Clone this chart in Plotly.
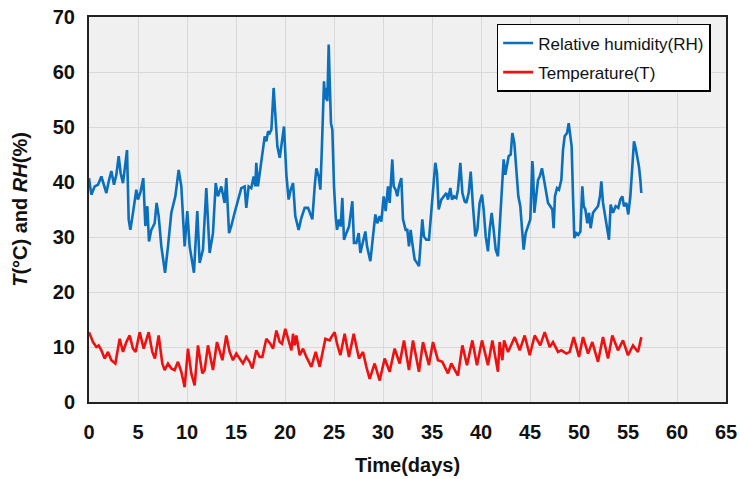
import plotly.graph_objects as go

# Relative humidity series (days, %)
rh_days = [0.00, 0.24, 0.58, 0.92, 1.26, 1.53, 1.77, 2.01, 2.28, 2.55, 2.79, 3.03, 3.23, 3.47, 3.64, 3.88,
           4.05, 4.22, 4.49, 4.83, 5.00, 5.27, 5.54, 5.75, 5.95, 6.12, 6.36, 6.70, 6.90, 7.11, 7.38, 7.76,
           8.06, 8.40, 8.81, 9.15, 9.42, 9.76, 10.03, 10.27, 10.71, 11.05, 11.29, 11.63, 11.97, 12.31, 12.65,
           12.93, 13.16, 13.50, 13.84, 14.01, 14.29, 14.52, 14.86, 15.20, 15.54, 15.88, 16.05, 16.29, 16.56,
           16.80, 16.97, 17.07, 17.24, 17.52, 17.93, 18.10, 18.27, 18.44, 18.61, 18.84, 19.01, 19.22, 19.46,
           19.69, 19.90, 20.14, 20.37, 20.58, 20.82, 21.05, 21.39, 21.67, 22.01, 22.35, 22.69,
           22.79, 23.03, 23.20, 23.44, 23.61, 23.78, 23.88, 23.98, 24.08, 24.22, 24.32, 24.46, 24.56, 24.69,
           24.83, 25.00, 25.17, 25.31, 25.51, 25.68, 25.85, 26.02, 26.26, 26.53, 26.87, 27.04, 27.28, 27.52,
           27.69, 27.89, 28.20, 28.37, 28.71, 28.98, 29.22, 29.42, 29.66, 29.83, 30.07, 30.27, 30.51, 30.68,
           30.95, 31.09, 31.29, 31.46, 31.63, 31.87, 32.04, 32.31, 32.48, 32.65, 32.82, 32.99, 33.23, 33.47,
           33.67, 33.84, 34.01, 34.18, 34.42, 34.69, 34.93, 35.17, 35.34, 35.51, 35.68, 35.95, 36.22, 36.46,
           36.63, 36.87, 37.04, 37.24, 37.48, 37.65, 37.89, 38.10, 38.33, 38.50, 38.74, 38.95, 39.18, 39.42,
           39.63, 39.86, 40.10, 40.27, 40.48, 40.71, 40.88, 41.09, 41.29, 41.50, 41.73, 41.97, 42.18, 42.31,
           42.48, 42.65, 42.82, 43.03, 43.20, 43.40, 43.61, 43.81, 44.01, 44.18, 44.35, 44.56, 44.80, 45.03,
           45.24, 45.31, 45.44, 45.58, 45.82, 45.99, 46.22, 46.43, 46.67, 46.84, 47.07, 47.28, 47.41, 47.55,
           47.76, 47.96, 48.20, 48.37, 48.54, 48.78, 48.95, 49.12, 49.25, 49.39, 49.52, 49.73, 49.93, 50.14,
           50.34, 50.48, 50.65, 50.85, 51.02, 51.19, 51.43, 51.67, 51.94, 52.14, 52.28, 52.45, 52.62, 52.86,
           53.06, 53.23, 53.47, 53.74, 54.01, 54.22, 54.42, 54.59, 54.83, 55.03, 55.24, 55.44, 55.61, 55.78,
           55.95, 56.12, 56.26, 56.36]
rh_values = [40.7, 37.7, 39.2, 39.5, 41.0, 39.2, 38.0, 40.1, 42.0, 39.5, 41.3, 44.7, 41.6, 39.8, 42.2, 45.8,
             33.2, 31.3, 34.4, 38.6, 36.8, 38.3, 40.7, 32.0, 35.6, 29.2, 31.3, 32.5, 36.2, 33.8, 28.3, 23.5,
             28.3, 34.4, 37.4, 42.2, 39.2, 28.3, 34.7, 28.3, 23.5, 34.7, 25.3, 27.7, 38.9, 27.1, 30.7,
             39.8, 37.4, 39.2, 36.2, 40.7, 30.7, 32.0, 34.4, 36.8, 38.9, 39.2, 35.3, 39.2, 38.9,
             41.0, 39.2, 43.5, 39.2, 42.9, 48.3, 47.4, 49.2, 48.9, 49.5, 57.1, 51.6, 46.5, 44.4,
             47.1, 50.1, 41.3, 36.8, 38.6, 39.8, 33.8, 31.3, 33.5, 35.3, 35.3, 33.8,
             33.2, 39.2, 42.5, 41.0, 38.6, 47.1, 53.8, 58.3, 55.0, 57.1, 54.7, 65.0, 58.6, 50.7,
             49.5, 39.2, 33.8, 31.3, 33.2, 31.9, 37.1, 29.5, 30.7, 31.9, 36.5, 28.9, 28.9, 30.7,
             27.1, 28.9, 31.0, 28.3, 25.6, 30.1, 34.1, 32.5, 33.8, 32.8, 37.4, 34.7, 39.2, 36.2,
             44.1, 39.2, 38.6, 37.4, 39.2, 40.7, 33.2, 31.3, 31.3, 28.3, 31.3, 28.9, 25.9, 25.3,
             24.7, 28.9, 33.2, 30.1, 29.5, 29.5, 34.4, 38.6, 43.5, 41.6, 35.0, 36.8, 37.4, 38.0,
             36.8, 38.9, 36.8, 37.4, 37.1, 38.6, 43.5, 38.0, 36.5, 36.2, 38.0, 41.9, 35.6, 30.1,
             31.3, 36.2, 37.7, 35.0, 30.1, 27.4, 31.3, 34.4, 31.3, 27.7, 26.5, 33.8, 42.2, 44.1,
             41.3, 43.2, 44.7, 45.0, 48.9, 47.1, 41.0, 37.4, 35.6, 31.3, 27.7, 30.7, 31.9, 33.2,
             43.8, 42.2, 34.4, 36.8, 40.4, 41.0, 42.5, 40.4, 37.4, 36.2, 35.6, 35.0, 31.6, 37.4,
             38.9, 38.6, 40.4, 45.9, 48.3, 48.9, 50.7, 48.3, 46.5, 37.4, 29.8, 30.7, 30.4, 31.0,
             39.2, 35.6, 35.0, 32.5, 34.4, 31.6, 34.4, 35.0, 35.6, 37.4, 40.1, 36.2, 34.4, 31.3,
             29.5, 35.9, 34.4, 35.6, 35.3, 36.8, 37.4, 35.6, 36.2, 34.1, 37.4, 42.8, 47.4, 46.2,
             44.7, 42.8, 40.4, 38.0]

# Temperature series (days, °C)
t_days = [0.00, 0.41, 0.75, 0.99, 1.26, 1.60, 1.94, 2.28, 2.69, 3.13, 3.47, 3.81, 4.15, 4.49, 4.76, 5.17,
          5.58, 6.09, 6.46, 6.73, 7.11, 7.48, 7.72, 8.06, 8.40, 8.74, 9.08, 9.42, 9.76, 10.10, 10.44, 10.78,
          11.12, 11.56, 11.80, 12.14, 12.65, 13.06, 13.61, 14.01, 14.35, 14.69, 15.03, 15.37, 15.71, 16.05,
          16.39, 16.67, 17.07, 17.41, 17.69, 18.10, 18.50, 18.78, 19.12, 19.46, 19.69, 20.03, 20.37, 20.65,
          20.82, 20.99, 21.16, 21.50, 21.84, 22.18, 22.69, 23.13, 23.54, 24.12, 24.56, 24.73, 25.07, 25.31,
          25.65, 26.09, 26.53, 27.01, 27.55, 27.96, 28.30, 28.64,
          29.15, 29.66, 30.17, 30.68, 31.19, 31.70, 32.14, 32.65, 33.06, 33.67, 34.08, 34.69, 35.10, 35.61,
          36.05, 36.63, 36.97, 37.65, 38.10, 38.57, 39.12, 39.59, 40.10, 40.71, 41.16, 41.73, 41.90, 42.18,
          42.35, 42.76, 43.44, 43.95, 44.46, 44.97, 45.48, 46.05, 46.50, 47.01, 47.35, 47.86, 48.20, 48.71,
          49.05, 49.46, 50.00, 50.41, 50.92, 51.36, 51.94, 52.45, 52.96, 53.40, 53.98, 54.49, 55.00, 55.51,
          56.02, 56.36]
t_values = [12.7, 10.9, 10.0, 10.3, 9.4, 7.9, 9.1, 7.6, 7.0, 11.5, 9.1, 10.9, 12.1, 9.7, 9.1, 12.7,
            9.7, 12.7, 9.1, 7.9, 12.1, 7.0, 5.8, 7.0, 6.1, 5.8, 7.3, 5.5, 2.7, 9.7, 5.2, 3.0,
            10.3, 5.2, 5.8, 10.3, 5.8, 10.9, 7.6, 12.1, 9.1, 7.6, 8.8, 7.9, 7.0, 8.2,
            7.3, 6.1, 9.4, 8.2, 8.2, 11.5, 10.6, 9.7, 13.0, 10.9, 10.6, 13.3, 11.2, 9.4,
            12.4, 10.3, 12.1, 8.5, 9.7, 8.2, 6.4, 9.1, 6.4, 11.5, 11.2, 11.8, 12.7, 10.6,
            8.5, 12.4, 8.2, 12.4, 7.9, 9.1, 6.4, 4.2,
            7.0, 3.9, 7.9, 5.5, 9.7, 7.0, 11.2, 5.8, 11.2, 5.5, 10.9, 6.7, 10.9, 7.6,
            7.3, 5.2, 7.0, 4.8, 10.3, 6.7, 11.2, 6.7, 11.2, 6.7, 11.2, 5.5, 10.9, 7.6,
            11.2, 9.1, 11.8, 9.4, 12.1, 8.5, 12.1, 10.3, 12.7, 10.0, 10.9, 9.1, 9.4, 8.8,
            9.1, 11.8, 8.2, 11.8, 8.8, 10.9, 7.3, 11.8, 7.9, 12.1, 9.4, 11.2, 8.5, 10.3,
            9.1, 11.8]

x_ticks = list(range(0, 70, 5))
y_ticks = list(range(0, 80, 10))

fig = go.Figure()
fig.add_trace(go.Scatter(x=rh_days, y=rh_values, mode="lines", name="Relative humidity(RH)",
                         legendgroup="rh", line=dict(color="#0a6fbd", width=2.6)))
fig.add_trace(go.Scatter(x=t_days, y=t_values, mode="lines", name="Temperature(T)",
                         legendgroup="t", line=dict(color="#ee1111", width=2.6)))

bold_font = dict(family="Liberation Sans, Arial", size=20, color="#111111", weight="bold")

fig.update_layout(
    width=740, height=479,
    margin=dict(l=89, r=14, t=17, b=77),
    paper_bgcolor="white",
    plot_bgcolor="#f0f0f0",
    showlegend=True,
    legend=dict(x=0.64, y=0.982, xanchor="left", yanchor="top",
                bgcolor="white", bordercolor="black", borderwidth=1.5,
                font=dict(family="Liberation Sans, Arial", size=17, color="#111111"),
                tracegroupgap=4),
    xaxis=dict(range=[0, 65], tickvals=x_ticks, showgrid=True, gridcolor="#d9d9d9", gridwidth=1,
               showline=True, linecolor="#222222", linewidth=2, mirror=True, automargin=False,
               ticks="", tickfont=bold_font, zeroline=False, ticklabelstandoff=11,
               title=dict(text="Time(days)", font=bold_font, standoff=16)),
    yaxis=dict(range=[0, 70], tickvals=y_ticks, showgrid=True, gridcolor="#d9d9d9", gridwidth=1,
               showline=True, linecolor="#222222", linewidth=2, mirror=True, automargin=False,
               ticks="", tickfont=bold_font, zeroline=False, ticklabelstandoff=8,
               title=dict(text="<i>T</i>(°C) and <i>RH</i>(%)", font=bold_font, standoff=20)),
)

fig.write_html("out.html", config={"displayModeBar": False},
               post_script="document.body.style.margin='0';")
